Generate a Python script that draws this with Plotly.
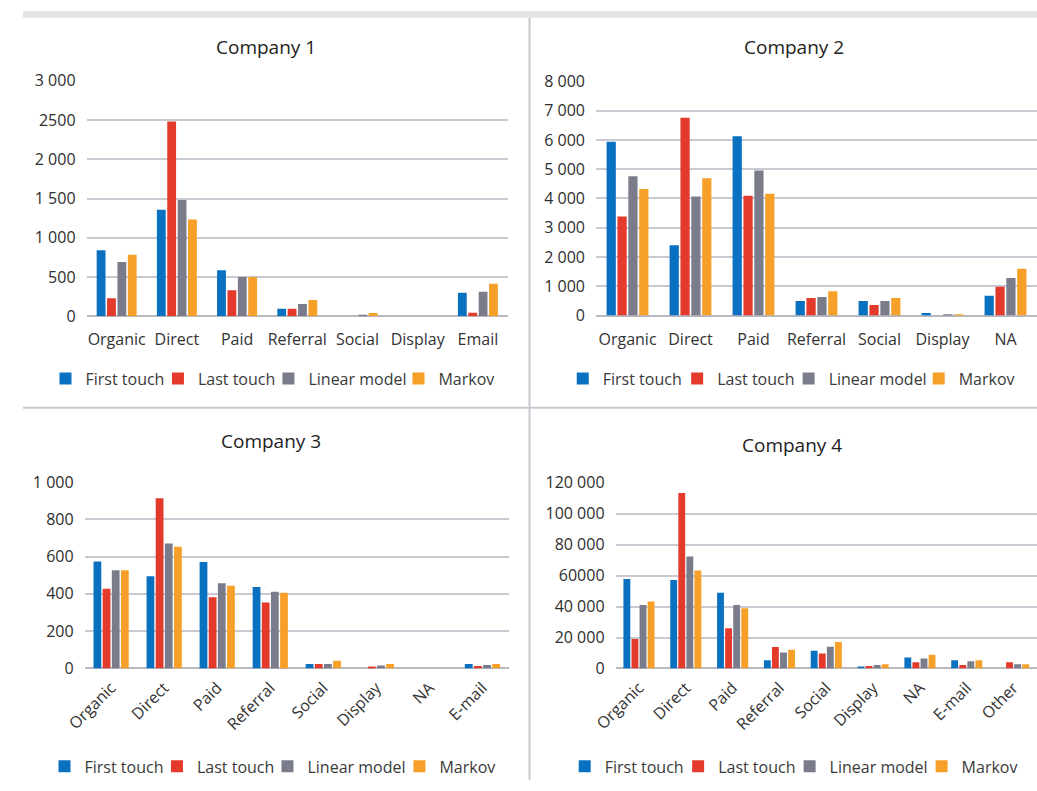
import plotly.graph_objects as go

series_names = ["First touch", "Last touch", "Linear model", "Markov"]
series_colors = ["#0a70c0", "#e33a2c", "#7b7c8b", "#f6a02a"]

c1_categories = ["Organic", "Direct", "Paid", "Referral", "Social", "Display", "Email"]
c1_first = [842, 1357, 586, 95, 0, 0, 301]
c1_last = [231, 2483, 330, 95, 0, 0, 45]
c1_linear = [693, 1481, 499, 157, 20, 0, 314]
c1_markov = [784, 1233, 499, 206, 41, 0, 413]
c1_tickvals = [0, 500, 1000, 1500, 2000, 2500, 3000]
c1_ticktext = ["0", "500", "1 000", "1 500", "2 000", "2500", "3 000"]

c2_categories = ["Organic", "Direct", "Paid", "Referral", "Social", "Display", "NA"]
c2_first = [5942, 2401, 6130, 498, 498, 90, 680]
c2_last = [3386, 6761, 4094, 598, 365, 0, 985]
c2_linear = [4758, 4072, 4957, 631, 498, 45, 1284]
c2_markov = [4326, 4692, 4160, 830, 598, 45, 1604]
c2_tickvals = [0, 1000, 2000, 3000, 4000, 5000, 6000, 7000, 8000]
c2_ticktext = ["0", "1 000", "2 000", "3 000", "4 000", "5 000", "6 000", "7 000", "8 000"]

c3_categories = ["Organic", "Direct", "Paid", "Referral", "Social", "Display", "NA", "E-mail"]
c3_first = [573, 495, 571, 437, 24, 0, 0, 24]
c3_last = [427, 913, 382, 354, 24, 10, 0, 14]
c3_linear = [526, 670, 457, 411, 24, 16, 0, 19]
c3_markov = [526, 653, 443, 406, 42, 24, 0, 24]
c3_tickvals = [0, 200, 400, 600, 800, 1000]
c3_ticktext = ["0", "200", "400", "600", "800", "1 000"]

c4_categories = ["Organic", "Direct", "Paid", "Referral", "Social", "Display", "NA", "E-mail", "Other"]
c4_first = [57700, 57100, 48900, 5300, 11500, 1000, 7100, 5300, 0]
c4_last = [19000, 113300, 25900, 13800, 9600, 1600, 4100, 2200, 4100]
c4_linear = [41000, 72300, 41000, 10300, 14000, 2200, 6500, 4600, 2800]
c4_markov = [43300, 63300, 38900, 12100, 17100, 2700, 8900, 5300, 2800]
c4_tickvals = [0, 20000, 40000, 60000, 80000, 100000, 120000]
c4_ticktext = ["0", "20 000", "40 000", "60000", "80 000", "100 000", "120 000"]

panel_titles = ["Company 1", "Company 2", "Company 3", "Company 4"]

W, H = 1037, 791
FONT = "Open Sans"

panels = [
    dict(cats=c1_categories, series=[c1_first, c1_last, c1_linear, c1_markov],
         tv=c1_tickvals, tt=c1_ticktext, ymax=3000,
         xpx=(65, 496), ypx=(71.7, 314), angle=0,
         title_xy=(249, 37), legend_y=378, legend_text_x=[60, 175, 288, 421]),
    dict(cats=c2_categories, series=[c2_first, c2_last, c2_linear, c2_markov],
         tv=c2_tickvals, tt=c2_ticktext, ymax=8000,
         xpx=(586, 1037), ypx=(72.3, 313.3), angle=0,
         title_xy=(788, 37), legend_y=378, legend_text_x=[589, 706, 820, 953]),
    dict(cats=c3_categories, series=[c3_first, c3_last, c3_linear, c3_markov],
         tv=c3_tickvals, tt=c3_ticktext, ymax=1000,
         xpx=(63, 497), ypx=(484.3, 676.3), angle=-45,
         title_xy=(254, 442), legend_y=777, legend_text_x=[59, 174, 287, 422]),
    dict(cats=c4_categories, series=[c4_first, c4_last, c4_linear, c4_markov],
         tv=c4_tickvals, tt=c4_ticktext, ymax=120000,
         xpx=(606, 1037), ypx=(485, 676.3), angle=-45,
         title_xy=(786, 446), legend_y=777, legend_text_x=[591, 707, 821, 956]),
]

fig = go.Figure()
layout = dict(
    width=W, height=H, autosize=False,
    margin=dict(l=0, r=0, t=0, b=0),
    paper_bgcolor="white", plot_bgcolor="white",
    barmode="group", bargap=0.31, bargroupgap=0.15,
    showlegend=True,
    font=dict(family=FONT, size=16, color="#333333"),
    annotations=[], shapes=[],
)

legend_count = 0
for i, p in enumerate(panels):
    n = "" if i == 0 else str(i + 1)
    xa, ya = "x" + n, "y" + n
    for s, (name, color) in enumerate(zip(series_names, series_colors)):
        legend_count += 1
        leg = "legend" if legend_count == 1 else "legend" + str(legend_count)
        fig.add_trace(go.Bar(
            x=p["cats"], y=p["series"][s], name=name,
            marker=dict(color=color, line=dict(width=0)),
            xaxis=xa, yaxis=ya, legend=leg, showlegend=True,
            hoverinfo="x+y+name",
        ))
        layout[leg] = dict(
            orientation="h", visible=True,
            x=(p["legend_text_x"][s] - 37) / W, y=1 - p["legend_y"] / H,
            xanchor="left", yanchor="middle",
            font=dict(family=FONT, size=16, color="#3a3a3a"),
            bgcolor="rgba(0,0,0,0)", borderwidth=0, itemwidth=30,
            itemclick=False, itemdoubleclick=False,
        )
    layout["xaxis" + n] = dict(
        domain=[p["xpx"][0] / W, p["xpx"][1] / W],
        anchor=ya, showgrid=False, showline=False, zeroline=False,
        ticks="", tickangle=p["angle"],
        ticklabelstandoff=12 if p["angle"] == 0 else 6,
        tickfont=dict(family=FONT, size=16, color="#333333"),
        fixedrange=True,
    )
    layout["yaxis" + n] = dict(
        domain=[1 - p["ypx"][1] / H, 1 - p["ypx"][0] / H],
        anchor=xa, range=[0, p["ymax"] * 1.0004],
        tickvals=p["tv"], ticktext=p["tt"],
        showgrid=True, gridcolor="#c9c9d1", gridwidth=2,
        zeroline=True, zerolinecolor="#b9b9c1", zerolinewidth=2,
        showline=False, ticks="", ticklabelstandoff=10,
        tickfont=dict(family=FONT, size=16, color="#2e2e2e"),
        fixedrange=True,
    )
    layout["annotations"].append(dict(
        text=panel_titles[i], x=p["title_xy"][0] / W, y=1 - p["title_xy"][1] / H,
        xref="paper", yref="paper", xanchor="center", yanchor="middle",
        showarrow=False, font=dict(family=FONT, size=19, color="#222222"),
    ))

# top grey band and panel dividers
layout["shapes"] = [
    dict(type="rect", xref="paper", yref="paper", x0=0, x1=1,
         y0=1 - 7 / H, y1=1, fillcolor="#e5e5e7", line=dict(width=0), layer="below"),
    dict(type="line", xref="paper", yref="paper", x0=518 / W, x1=518 / W,
         y0=0, y1=1 - 7 / H, line=dict(color="#c8c8d0", width=2)),
    dict(type="line", xref="paper", yref="paper", x0=0, x1=1,
         y0=1 - 408 / H, y1=1 - 408 / H, line=dict(color="#c8c8d0", width=2)),
]

fig.update_layout(**layout)
fig.write_html("out.html", config=dict(displayModeBar=False))
